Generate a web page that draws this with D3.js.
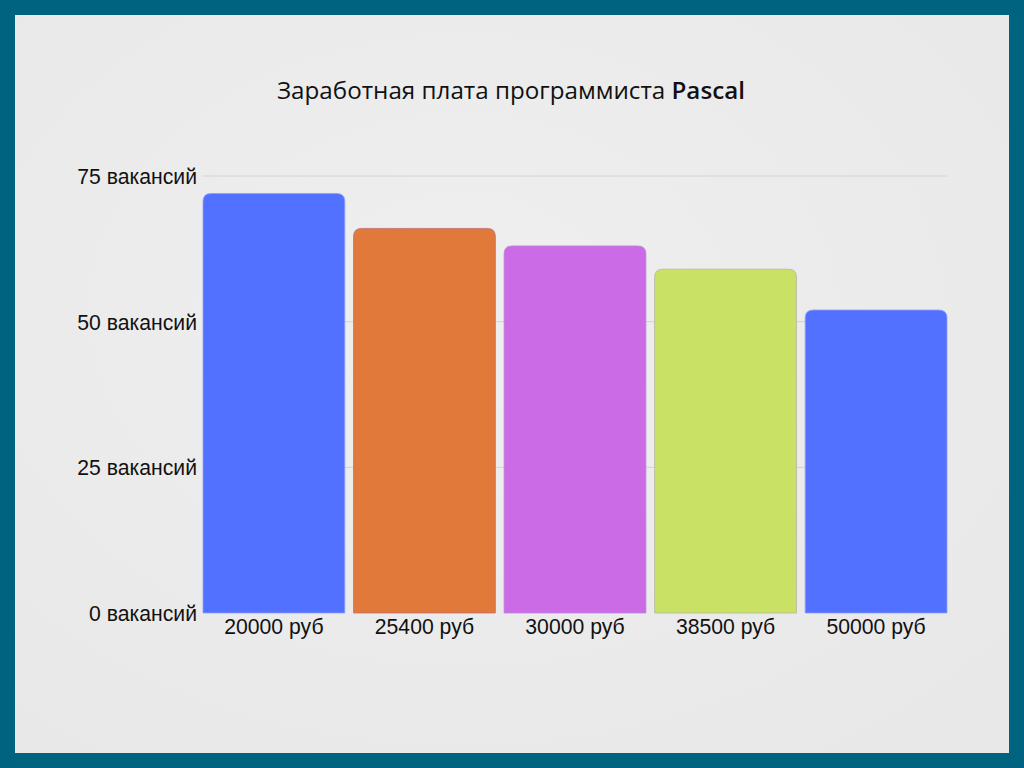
<!DOCTYPE html>
<html><head><meta charset="utf-8">
<script src="https://cdn.jsdelivr.net/npm/d3@7"></script>
<style>
html,body{margin:0;padding:0;background:#00637f;}
svg{display:block;}
</style></head>
<body>
<svg id="chart" width="1024" height="768"></svg>
<script>
const categories = ["20000 руб", "25400 руб", "30000 руб", "38500 руб", "50000 руб"];
const values = [72, 66, 63, 59, 52];
const colors = ["#5271ff", "#e0793a", "#cb6ce6", "#c9e265", "#5271ff"];
const strokes = ["#8fa0ff", "#c0707a", "#b98ad8", "#b5b5a0", "#8fa0ff"];
const yTicks = [0, 25, 50, 75];
const yTickLabel = v => v + " вакансий";
const titleMain = "Заработная плата программиста ";
const titleBold = "Pascal";

const svg = d3.select("#chart");
const W = 1024, H = 768;

svg.append("rect").attr("x",0).attr("y",0).attr("width",W).attr("height",H).attr("fill","#00637f");
const defs = svg.append("defs");
const rg = defs.append("radialGradient").attr("id","bg").attr("cx","45%").attr("cy","40%").attr("r","75%");
rg.append("stop").attr("offset","0%").attr("stop-color","#efefef");
rg.append("stop").attr("offset","100%").attr("stop-color","#e8e8e8");
svg.append("rect").attr("x",15).attr("y",15).attr("width",W-30).attr("height",H-30).attr("fill","url(#bg)");

const x0 = 203, x1 = 947, yTop = 176, yBot = 613;
const x = d3.scaleBand().domain(categories).range([x0, x1]).paddingInner(0.058).paddingOuter(0);
const y = d3.scaleLinear().domain([0, 75]).range([yBot, yTop]);

svg.append("g").selectAll("line").data(yTicks.filter(t => t > 0)).join("line")
  .attr("x1", x0).attr("x2", x1)
  .attr("y1", d => y(d)).attr("y2", d => y(d))
  .attr("stroke", "#d2d2d2").attr("stroke-width", 1);

svg.append("g").selectAll("text").data(yTicks).join("text")
  .attr("x", 197).attr("y", d => y(d) + 8)
  .attr("text-anchor", "end")
  .attr("font-family", "'Liberation Sans', Arial, sans-serif")
  .attr("font-size", 21.2).attr("fill", "#111")
  .text(yTickLabel);

const r = 8;
function barPath(d, i) {
  const bx = x(categories[i]), bw = x.bandwidth();
  const top = y(d), bot = y(0);
  return `M${bx},${bot} L${bx},${top + r} Q${bx},${top} ${bx + r},${top} L${bx + bw - r},${top} Q${bx + bw},${top} ${bx + bw},${top + r} L${bx + bw},${bot} Z`;
}
svg.append("g").selectAll("path").data(values).join("path")
  .attr("d", barPath)
  .attr("fill", (d, i) => colors[i])
  .attr("stroke", (d, i) => strokes[i]).attr("stroke-width", 0.8);

svg.append("g").selectAll("text").data(categories).join("text")
  .attr("x", d => x(d) + x.bandwidth() / 2).attr("y", 634)
  .attr("text-anchor", "middle")
  .attr("font-family", "'Liberation Sans', Arial, sans-serif")
  .attr("font-size", 21.2).attr("fill", "#111")
  .text(d => d);

const t = svg.append("text").attr("x", 511).attr("y", 99).attr("text-anchor", "middle")
  .attr("font-family", "'Open Sans', 'Noto Sans', sans-serif").attr("font-size", 24.2).attr("fill", "#111");
t.append("tspan").text(titleMain);
t.append("tspan").attr("font-weight", 600).text(titleBold);
</script>
</body></html>
